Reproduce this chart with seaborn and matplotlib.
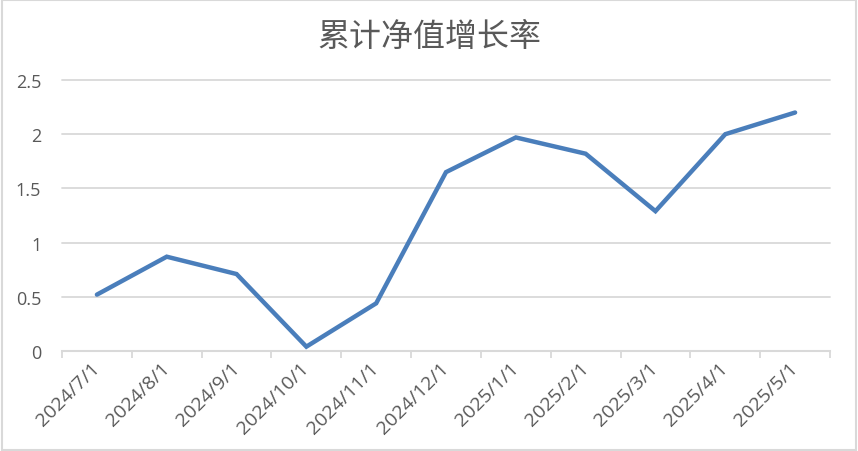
import numpy as np
import pandas as pd
import matplotlib
matplotlib.use("Agg")
import matplotlib.pyplot as plt
import seaborn as sns

# data
dates = ["2024/7/1", "2024/8/1", "2024/9/1", "2024/10/1", "2024/11/1", "2024/12/1",
         "2025/1/1", "2025/2/1", "2025/3/1", "2025/4/1", "2025/5/1"]
growth = [0.52, 0.87, 0.71, 0.04, 0.44, 1.65, 1.97, 1.82, 1.29, 2.00, 2.20]
y_ticks = [0, 0.5, 1, 1.5, 2, 2.5]
y_labels = ["0", "0.5", "1", "1.5", "2", "2.5"]
title = "累计净值增长率"

sns.set_theme(style="white")
plt.rcParams["font.family"] = ["Open Sans", "Noto Sans CJK SC"]

df = pd.DataFrame({"pos": np.arange(len(dates)), "date": dates, "growth": growth})

grid_c = "#d9d9d9"
text_c = "#595959"
line_c = "#4a7ebb"

fig = plt.figure(figsize=(8.58, 4.52), dpi=100)
ax = fig.add_axes([62 / 858, 1 - 352 / 452, (830 - 62) / 858, (352 - 81) / 452])

sns.lineplot(data=df, x="pos", y="growth", ax=ax, color=line_c, linewidth=3.2,
             sort=False, solid_capstyle="round", solid_joinstyle="miter", zorder=3)

ax.set_xlim(-0.5, len(dates) - 0.5)
ax.set_ylim(0, 2.5)

# horizontal gridlines
for v in y_ticks[1:]:
    ax.axhline(v, color=grid_c, linewidth=1.3, zorder=1, clip_on=False)

for s in ["top", "right", "left"]:
    ax.spines[s].set_visible(False)
ax.spines["bottom"].set_color(grid_c)
ax.spines["bottom"].set_linewidth(1.5)

ax.set_yticks(y_ticks)
ax.set_yticklabels(y_labels, fontsize=13, color=text_c, family="Open Sans")
ax.tick_params(axis="y", length=0, pad=15)

ax.set_xticks(df["pos"])
ax.set_xticklabels(dates, fontsize=14, color=text_c, rotation=45, family="Open Sans",
                   ha="right", va="center", rotation_mode="anchor")
ax.tick_params(axis="x", which="major", length=0, pad=10)
ax.set_xticks(np.arange(-0.5, len(dates)), minor=True)
ax.tick_params(axis="x", which="minor", bottom=True, length=5, width=1.3,
               color=grid_c, direction="out")

ax.set_xlabel("")
ax.set_ylabel("")

fig.text(429 / 858, 1 - 37 / 452, title, fontsize=23, color=text_c,
         ha="center", va="center", family=["Noto Sans CJK SC", "DejaVu Sans"])

# outer chart border
border = plt.Rectangle((0.002, 0.003), 0.996, 0.994, transform=fig.transFigure,
                       fill=False, edgecolor="#d9d9d9", linewidth=1.5)
fig.patches.append(border)

fig.savefig("out.png", dpi=100, facecolor="white")
